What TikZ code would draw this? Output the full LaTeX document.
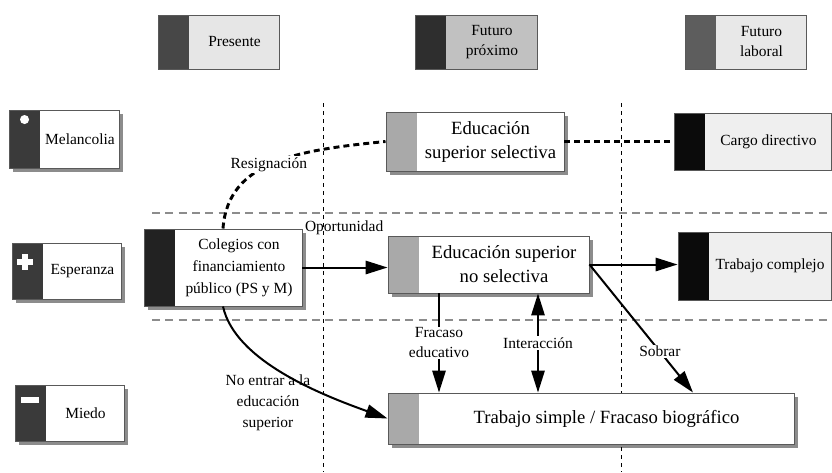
\documentclass[tikz,border=0pt]{standalone}
\usepackage{fontspec}
\setmainfont{Liberation Serif}
\usetikzlibrary{arrows.meta,calc,backgrounds}

\definecolor{BandPresente}{HTML}{474747}
\definecolor{FillPresente}{HTML}{E6E6E6}
\definecolor{BandProximo}{HTML}{2E2E2E}
\definecolor{FillProximo}{HTML}{C1C1C1}
\definecolor{BandLaboral}{HTML}{5D5D5D}
\definecolor{FillLaboral}{HTML}{E8E8E8}
\definecolor{BandEmocion}{HTML}{3A3A3A}
\definecolor{BandColegio}{HTML}{222222}
\definecolor{BandEducacion}{HTML}{A9A9A9}
\definecolor{BandTrabajo}{HTML}{0B0B0B}
\definecolor{FillTrabajo}{HTML}{EFEFEF}
\definecolor{Sombra}{HTML}{8C8C8C}

\tikzset{
  box/.style={draw=black!65, line width=0.7pt, rectangle, inner sep=0pt},
  sz/.style 2 args={minimum width=#1*0.75pt, minimum height=#2*0.75pt},
  band/.style 2 args={fill=#2, path picture={
      \fill[#1] (path picture bounding box.north west) rectangle
        ([xshift=23.6pt]path picture bounding box.south west);}},
  txt/.style={font=\fontsize{11.6}{15}\selectfont, align=center, inner sep=1pt},
  bigtxt/.style={font=\fontsize{14}{18}\selectfont, align=center, inner sep=1pt},
  lbl/.style={txt, fill=white},
  arr/.style={line width=1.5pt, -{Triangle[length=16.5pt, width=10pt]}},
  dblarr/.style={line width=1.5pt, {Triangle[length=16.5pt, width=10pt]}-{Triangle[length=16.5pt, width=10pt]}},
  dots/.style={line width=2.2pt, dash pattern=on 4.5pt off 3pt},
  guideh/.style={draw=black!45, line width=0.8pt, dash pattern=on 6pt off 4pt},
  guidev/.style={draw=black, line width=0.7pt, dash pattern=on 3pt off 3pt},
}

\begin{document}
\begin{tikzpicture}[x=0.75pt, y=-0.75pt]
\useasboundingbox (0,0) rectangle (832,472);

% guias
\draw[guideh] (152,213) -- (832,213);
\draw[guideh] (152,320) -- (832,320);
\draw[guidev] (323,103) -- (323,472);
\draw[guidev] (621,103) -- (621,472);

% tiempos
\node[box, band={BandPresente}{FillPresente}, sz={121}{54}] (pre) at (218.5,42) {};
\node[txt] (pre-t) at ($(pre.center)+(16,0)$) {Presente};
\node[box, band={BandProximo}{FillProximo}, sz={122}{54}] (fpr) at (476,42) {};
\node[txt] (fpr-t) at ($(fpr.center)+(16,0)$) {Futuro\\próximo};
\node[box, band={BandLaboral}{FillLaboral}, sz={121}{54}] (flab) at (745.5,42) {};
\node[txt] (flab-t) at ($(flab.center)+(16,0)$) {Futuro\\laboral};

% emociones
\node[box, band={BandEmocion}{white}, sz={110}{58}] (mel) at (64,139) {};
\node[txt] (mel-t) at ($(mel.center)+(16,0)$) {Melancolia};
\node[box, band={BandEmocion}{white}, sz={109}{56}] (esp) at (66.5,271) {};
\node[txt] (esp-t) at ($(esp.center)+(16,0)$) {Esperanza};
\node[box, band={BandEmocion}{white}, sz={109}{56}] (mie) at (69.5,413) {};
\node[txt] (mie-t) at ($(mie.center)+(16,0)$) {Miedo};

\fill[white] ($(mel.north west)+(16,10)$) circle[radius=3.4pt];
\fill[white] ($(esp.north west)+(5,16)$) rectangle ++(16,6);
\fill[white] ($(esp.north west)+(10,11)$) rectangle ++(6,16);
\fill[white] ($(mie.north west)+(6,12.5)$) rectangle ++(18,6);

% trayectorias
\node[box, band={BandColegio}{white}, sz={158}{77}] (col) at (223,267.5) {};
\node[txt, font=\fontsize{11.6}{16.5}\selectfont] (col-t) at ($(col.center)+(16,0)$)
  {Colegios con\\financiamiento\\público (PS y M)};
\node[box, band={BandEducacion}{white}, sz={178}{59}] (ess) at (475,141.5) {};
\node[bigtxt] (ess-t) at ($(ess.center)+(15.5,0)$) {Educación\\superior selectiva};
\node[box, band={BandTrabajo}{FillTrabajo}, sz={157}{57}] (car) at (752.5,141.5) {};
\node[txt] (car-t) at ($(car.center)+(16,0)$) {Cargo directivo};
\node[box, band={BandEducacion}{white}, sz={201}{57}] (esns) at (488.5,264.5) {};
\node[bigtxt] (esns-t) at ($(esns.center)+(15.5,0)$) {Educación superior\\no selectiva};
\node[box, band={BandTrabajo}{FillTrabajo}, sz={153}{68}] (tc) at (754.5,266) {};
\node[txt] (tc-t) at ($(tc.center)+(15.5,0)$) {Trabajo complejo};
\node[box, band={BandEducacion}{white}, sz={406}{51}] (ts) at (591,418.5) {};
\node[bigtxt] (ts-t) at ($(ts.center)+(15.5,0)$) {Trabajo simple / Fracaso biográfico};

% sombras
\begin{scope}[on background layer]
\foreach \n in {mel,esp,mie,col,ess,esns,ts}
  \fill[Sombra] ($(\n.south west)+(4,4)$) rectangle ($(\n.north east)+(4,4)$);
\end{scope}

\coordinate (xfra) at (439,0);
\coordinate (xint) at (538,0);
\coordinate (xsob) at (693,0);

\draw[dots] (col.north) .. controls (228,160) and (300,150) .. node[lbl, pos=0.47] (res) {Resignación} (ess.west);
\draw[dots] (ess.east) -- (car.west);

\node[txt, anchor=west] (opo) at ($(col.north east)+(1,-1)$) {Oportunidad};
\draw[arr] (col.east) -- (col.east -| esns.west);
\draw[arr] (esns.east) -- (esns.east -| tc.west);
\draw[arr] (esns.south -| xfra) -- node[lbl] (fra) {Fracaso\\educativo} (ts.north -| xfra);
\draw[dblarr] (esns.south -| xint) -- node[lbl] (int) {Interacción} (ts.north -| xint);
\draw[arr] (esns.east) -- node[lbl, pos=0.68] (sob) {Sobrar} (ts.north -| xsob);

\node[txt, font=\fontsize{11.6}{15.8}\selectfont] (noen) at (268,403) {No entrar a la\\educación\\superior};
\draw[arr] (col.south) .. controls (235,361) and (322,395) .. (ts.west);

\end{tikzpicture}
\end{document}
